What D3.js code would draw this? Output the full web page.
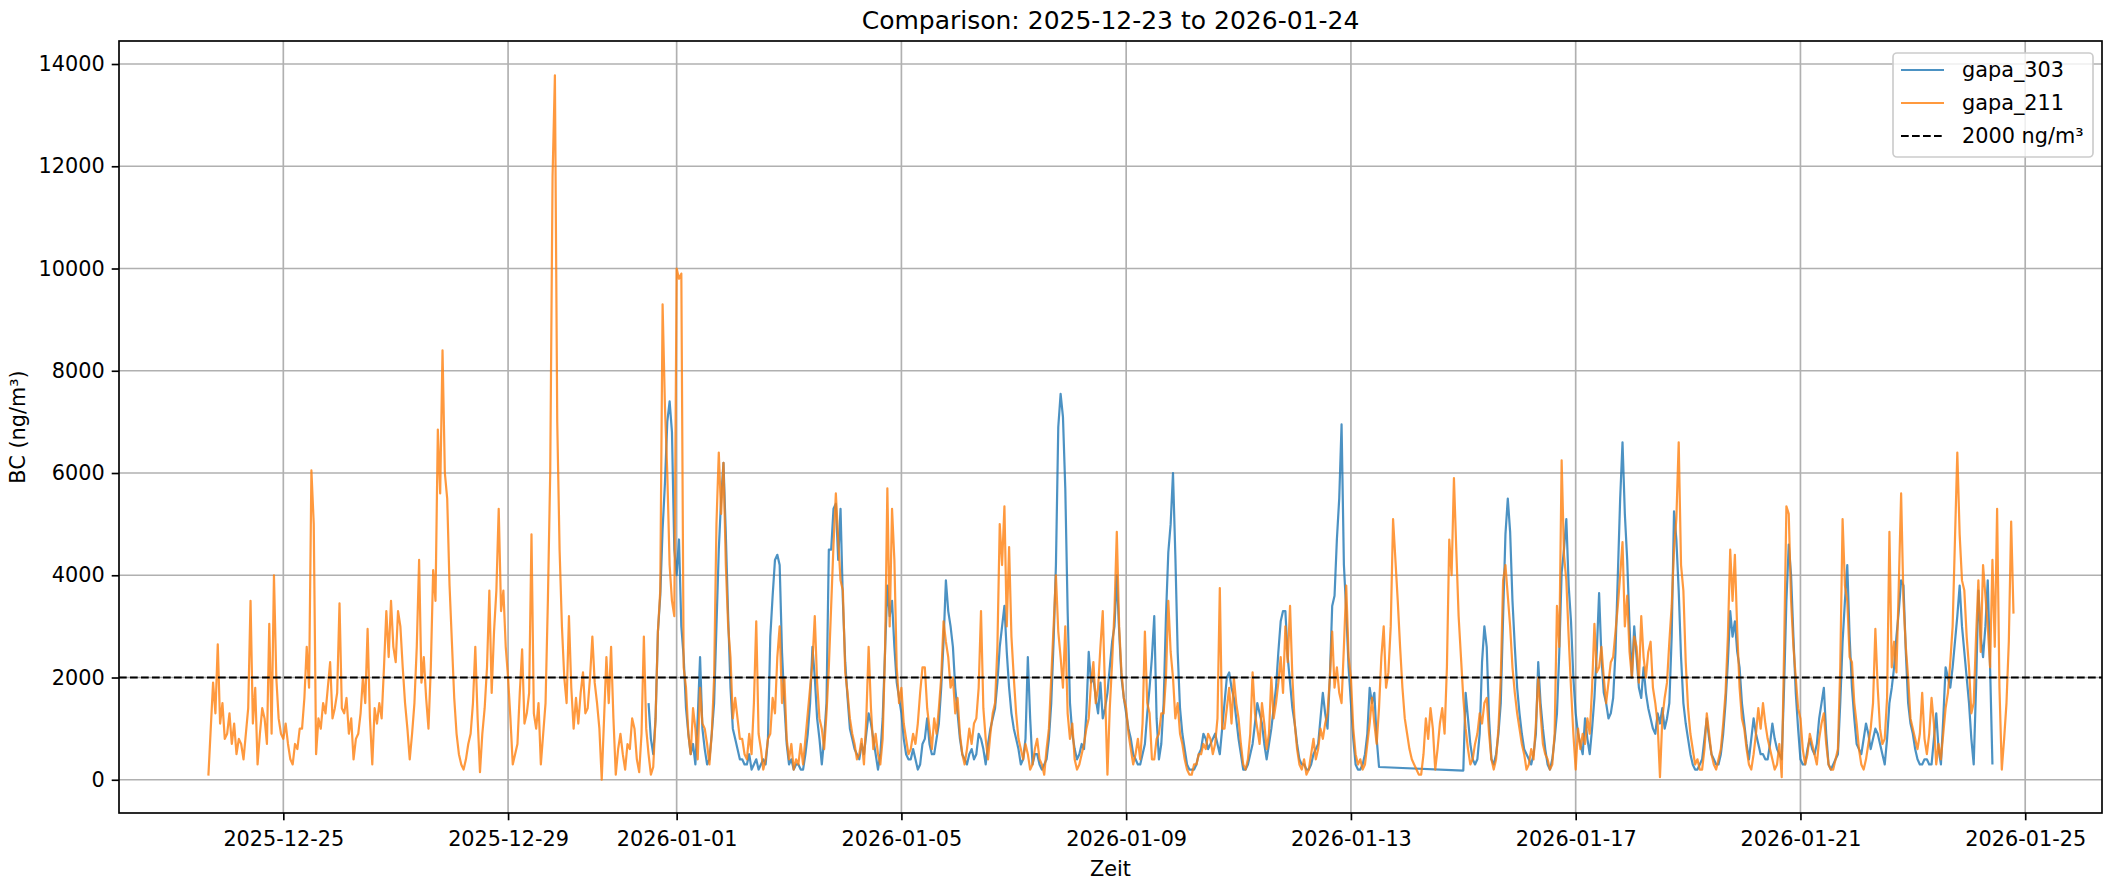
<!DOCTYPE html>
<html>
<head>
<meta charset="utf-8">
<script src="https://cdn.jsdelivr.net/npm/d3@7"></script>
<style>
  body { margin: 0; background: #fff; }
  svg { display: block; font-family: "DejaVu Sans", sans-serif; }
</style>
</head>
<body>
<svg id="chart" width="2103" height="877"></svg>
<script>

// chart values (hourly, one line per day)
var stepHours = 1;
var gapa211Start = "2025-12-23T16:00";
var gapa303Start = "2025-12-31T12:00";

var gapa211 = [
    80, 1000, 1900, 1300, 2650, 1100, 1500, 800,
    900, 1300, 700, 1100, 500, 800, 700, 400, 900, 1400, 3500, 1100, 1800, 300, 900, 1400, 1200, 700, 3050, 900, 4000, 2000, 1200, 900,
    800, 1100, 700, 400, 300, 700, 600, 1000, 1000, 1600, 2600, 1800, 6050, 5000, 500, 1200, 1000, 1500, 1300, 1800, 2300, 1200, 1400, 1700,
    3450, 1400, 1300, 1600, 900, 1200, 400, 800, 900, 1300, 2000, 1500, 2950, 1200, 300, 1400, 1100, 1500, 1200, 2200, 3300, 2400, 3500, 2600,
    2300, 3300, 3000, 2200, 1500, 1000, 400, 900, 1500, 2600, 4300, 1900, 2400, 1600, 1000, 2200, 4100, 3500, 6850, 5600, 8400, 6000, 5500, 3800,
    2700, 1600, 900, 500, 300, 200, 400, 700, 900, 1500, 2600, 1200, 150, 900, 1400, 2200, 3700, 1700, 2900, 3700, 5300, 3300, 3700, 2600,
    2000, 1200, 300, 500, 700, 1700, 2550, 1100, 1300, 1700, 4800, 1300, 1000, 1500, 300, 900, 1500, 3500, 6000, 11800, 13780, 7000, 4500, 3000,
    2000, 1500, 3200, 1800, 1000, 1600, 1100, 1700, 2100, 1300, 1400, 2000, 2800, 1900, 1500, 1000, 0, 1200, 2400, 1500, 2600, 1200, 100, 600,
    900, 500, 200, 700, 600, 1200, 1000, 400, 150, 900, 2800, 1000, 500, 100, 250, 1200, 2900, 3700, 9300, 7300, 6000, 4200, 3500, 3200,
    10000, 9800, 9900, 2200, 1800, 900, 500, 1400, 1000, 400, 1800, 1100, 1000, 700, 300, 900, 2000, 5000, 6400, 5200, 6200, 4200, 3000, 2400,
    1200, 1600, 1200, 800, 800, 500, 400, 900, 500, 1500, 3100, 900, 600, 200, 400, 800, 900, 1600, 1300, 2400, 3000, 1500, 2000, 800,
    400, 700, 200, 400, 300, 700, 300, 800, 1300, 1800, 2300, 3200, 1900, 1200, 1000, 600, 1300, 2200, 3400, 4600, 5600, 4700, 3900, 3700,
    2100, 1700, 1200, 900, 700, 400, 500, 800, 300, 1200, 2600, 1400, 600, 900, 500, 300, 800, 2500, 5700, 3000, 5300, 4300, 2200, 1500,
    1800, 1100, 800, 500, 600, 900, 700, 1100, 1700, 2200, 2200, 1400, 1000, 600, 1200, 900, 1400, 2000, 3100, 2700, 2400, 1800, 2000, 1300,
    1600, 900, 500, 300, 600, 1000, 700, 1100, 1200, 1800, 3300, 1400, 800, 400, 900, 1300, 1500, 2600, 5000, 4200, 5350, 3000, 4550, 2800,
    2000, 1300, 800, 600, 400, 700, 500, 200, 300, 600, 800, 400, 300, 100, 600, 1000, 2000, 3000, 4000, 2900, 2400, 1800, 3000, 1300,
    800, 1100, 400, 200, 300, 500, 700, 1000, 1200, 1900, 2300, 1500, 1800, 2600, 3300, 1700, 100, 1400, 2300, 3300, 4850, 3000, 2100, 1600,
    1400, 900, 600, 300, 500, 800, 400, 1100, 2900, 1500, 1300, 400, 400, 800, 900, 1300, 1300, 2000, 3500, 2500, 2000, 1200, 1500, 900,
    700, 400, 200, 100, 100, 300, 300, 500, 500, 700, 600, 900, 800, 500, 700, 1200, 3750, 1000, 1000, 1400, 1800, 1100, 2000, 1500,
    1200, 700, 300, 200, 400, 900, 2100, 1300, 1000, 700, 1500, 1100, 600, 900, 2000, 1200, 1500, 1900, 2400, 1700, 3000, 2300, 3400, 2000,
    1100, 600, 300, 200, 400, 100, 200, 500, 800, 400, 600, 1000, 800, 1100, 1300, 2000, 2900, 1800, 2200, 1700, 1500, 2600, 3800, 2400,
    2000, 1000, 500, 300, 400, 200, 300, 700, 1100, 1600, 1100, 700, 1400, 2400, 3000, 1800, 2100, 3000, 5100, 4300, 3500, 2600, 1800, 1200,
    900, 600, 400, 300, 200, 100, 100, 500, 1200, 800, 1400, 1000, 200, 600, 1100, 1400, 900, 2200, 4700, 4000, 5900, 4500, 3200, 2400,
    1600, 1000, 600, 300, 400, 700, 900, 1300, 1100, 1500, 1600, 900, 400, 200, 400, 1000, 2000, 3900, 4200, 3600, 3000, 2200, 1700, 1300,
    1000, 700, 500, 200, 300, 600, 400, 1100, 2000, 1300, 700, 500, 400, 200, 300, 900, 3400, 2600, 6250, 4400, 3900, 2800, 1800, 900,
    200, 1000, 600, 900, 700, 1200, 900, 1800, 3050, 2100, 2200, 2600, 2000, 1500, 1900, 2300, 2400, 2900, 3400, 4000, 4650, 3000, 3600, 2500,
    2000, 2800, 2600, 1900, 3200, 2400, 2000, 2500, 2700, 1800, 1500, 1100, 50, 1200, 1600, 1900, 2700, 3400, 4500, 5100, 6600, 4200, 3700, 2300,
    1400, 900, 600, 300, 400, 200, 200, 600, 1300, 900, 500, 300, 200, 400, 600, 1100, 1700, 2800, 4500, 3500, 4400, 2900, 1800, 1200,
    1000, 600, 300, 200, 500, 900, 1400, 1000, 1500, 1100, 800, 600, 400, 200, 300, 700, 50, 2500, 5350, 5200, 3500, 2600, 2000, 1400,
    1200, 600, 300, 500, 900, 700, 500, 300, 800, 1100, 1300, 700, 300, 200, 200, 400, 600, 2200, 5100, 3800, 3500, 2400, 2300, 1500,
    1100, 600, 300, 200, 400, 700, 1000, 1500, 2950, 1800, 1000, 700, 800, 1600, 4850, 2200, 2700, 2100, 3800, 5600, 3500, 2600, 2000, 1200,
    1000, 800, 600, 900, 1700, 800, 500, 900, 1600, 1100, 300, 700, 400, 900, 1400, 1700, 2300, 3000, 4700, 6400, 4800, 3900, 3700, 2800,
    2200, 1300, 1500, 2800, 3900, 2500, 4200, 3600, 3000, 2200, 4300, 2600, 5300, 1800, 200, 800, 1500, 2700, 5050, 3250
];

var gapa303 = [
    1500, 800, 500, 1200, 2900, 3600, 4900, 5800, 7000, 7400, 6800, 4500,
    4000, 4700, 3000, 2400, 1400, 900, 500, 700, 300, 1200, 2400, 1000, 600, 300, 400, 900, 1500, 3000, 4500, 5500, 6200, 4800, 3200, 1800,
    1000, 800, 600, 400, 400, 300, 300, 500, 200, 300, 400, 200, 300, 400, 300, 800, 2800, 3600, 4300, 4400, 4200, 2500, 1500, 700,
    300, 400, 200, 300, 300, 200, 200, 500, 900, 1500, 2600, 2000, 1200, 800, 300, 800, 1500, 4500, 4500, 5300, 5400, 4300, 5300, 3500,
    2300, 1600, 1000, 800, 600, 500, 400, 700, 500, 900, 1300, 1100, 800, 500, 200, 500, 1200, 2500, 3800, 3200, 3500, 2600, 1900, 1600,
    1300, 800, 500, 400, 400, 600, 400, 200, 300, 700, 800, 1200, 700, 500, 500, 800, 1100, 1800, 2700, 3900, 3300, 3000, 2600, 1800,
    1300, 800, 500, 400, 300, 500, 600, 400, 500, 900, 800, 600, 300, 700, 1000, 1200, 1400, 1900, 2600, 3000, 3400, 2500, 1800, 1300,
    1000, 800, 600, 300, 400, 800, 2400, 1200, 300, 500, 500, 300, 200, 300, 400, 800, 1500, 2700, 4200, 6900, 7550, 7100, 5700, 3300,
    1500, 900, 600, 400, 500, 700, 600, 1300, 2500, 1900, 2000, 1600, 1300, 1900, 1200, 1400, 1700, 2200, 2700, 3000, 4000, 2900, 2000, 1600,
    1300, 1000, 800, 500, 400, 300, 300, 500, 700, 1300, 1800, 2400, 3200, 1200, 400, 700, 1500, 3200, 4450, 5000, 6000, 4400, 2500, 1400,
    900, 600, 300, 200, 200, 200, 300, 500, 600, 900, 800, 600, 700, 800, 900, 700, 500, 1000, 1500, 2000, 2100, 1800, 1600, 1200,
    800, 500, 200, 200, 300, 500, 700, 1100, 1500, 1300, 1100, 700, 400, 700, 1000, 1400, 1800, 2500, 3100, 3300, 3300, 2400, 1900, 1400,
    1100, 700, 400, 300, 300, 200, 200, 300, 500, 600, 700, 1200, 1700, 1300, 1000, 2000, 3400, 3600, 4700, 5500, 6950, 4200, 3300, 2200,
    1500, 800, 300, 200, 200, 300, 500, 900, 1800, 1500, 1700, 800, 250, null, null, null, null, null, null, null, null, null, null, null,
    null, null, null, null, null, null, null, null, null, null, null, null, null, null, null, null, null, null, null, null, null, null, null, null,
    180, 1700, 1200, 700, 400, 300, 400, 900, 2300, 3000, 2600, 1200, 400, 300, 500, 900, 1500, 3200, 4800, 5500, 4850, 3500, 2600, 1800,
    1300, 900, 600, 500, 400, 300, 500, 900, 2300, 1500, 1000, 600, 300, 200, 400, 800, 1300, 2500, 4050, 4500, 5100, 3800, 3100, 2000,
    1300, 900, 700, 500, 1200, 800, 500, 1000, 1600, 2500, 3650, 2400, 1700, 1500, 1200, 1300, 1600, 2500, 4000, 5500, 6600, 5200, 4300, 3000,
    2000, 3000, 2400, 1800, 1600, 2200, 1700, 1400, 1200, 1000, 900, 1300, 1100, 1400, 1000, 1200, 1500, 2800, 5250, 4700, 3700, 2400, 1500, 1100,
    800, 500, 300, 200, 200, 300, 400, 800, 1200, 800, 500, 400, 300, 300, 500, 900, 1500, 2300, 3300, 2800, 3100, 2500, 2200, 1500,
    1100, 700, 400, 800, 1200, 900, 700, 500, 500, 400, 400, 700, 1100, 800, 600, 500, 400, 1800, 3500, 4600, 4000, 2800, 1700, 1000,
    400, 300, 300, 600, 800, 600, 500, 700, 1200, 1500, 1800, 900, 300, 200, 300, 400, 500, 1500, 2700, 3500, 4200, 2800, 1800, 1200,
    700, 600, 500, 800, 1100, 900, 600, 800, 1000, 900, 700, 500, 300, 800, 1500, 1800, 2200, 2800, 3300, 3900, 3800, 2500, 1500, 1100,
    900, 600, 400, 300, 300, 400, 400, 300, 300, 800, 1300, 600, 300, 1200, 2200, 2000, 1800, 2200, 2700, 3200, 3800, 3000, 2500, 2000,
    1500, 800, 300, 1800, 3700, 2800, 2400, 3000, 3900, 2200, 300
];

var threshold = 2000;

var xTicks = ["2025-12-25", "2025-12-29", "2026-01-01", "2026-01-05",
              "2026-01-09", "2026-01-13", "2026-01-17", "2026-01-21", "2026-01-25"];
var yTicks = [0, 2000, 4000, 6000, 8000, 10000, 12000, 14000];

var xRange = ["2025-12-22T01:49", "2026-01-26T08:48"];
var yRange = [-650, 14450];

var titleText = "Comparison: 2025-12-23 to 2026-01-24";
var xLabel = "Zeit";
var yLabel = "BC (ng/m\u00b3)";

var series = [
    { name: "gapa_303", values: gapa303, start: gapa303Start, color: "#1f77b4" },
    { name: "gapa_211", values: gapa211, start: gapa211Start, color: "#ff7f0e" }
];

// layout (plot box in page pixels)
var plotLeft = 119, plotRight = 2102, plotTop = 41, plotBottom = 813;
var fontSize = 20.8;

var parseTime = d3.timeParse("%Y-%m-%dT%H:%M");
var parseDay = d3.timeParse("%Y-%m-%d");

function toPoints(s) {
    var t0 = parseTime(s.start);
    var pts = [];
    for (var i = 0; i < s.values.length; i++) {
        if (s.values[i] === null) continue;   // missing data, line just connects
        pts.push({ t: d3.timeHour.offset(t0, i * stepHours), v: s.values[i] });
    }
    return pts;
}

var svg = d3.select("#chart");

var x = d3.scaleTime()
    .domain(xRange.map(parseTime))
    .range([plotLeft, plotRight]);

var y = d3.scaleLinear()
    .domain(yRange)
    .range([plotBottom, plotTop]);

var tickDates = xTicks.map(parseDay);

// grid
var grid = svg.append("g").attr("stroke", "#b0b0b0").attr("stroke-width", 1.67);
grid.selectAll(".vg").data(tickDates).enter().append("line")
    .attr("x1", function(d){ return x(d); })
    .attr("x2", function(d){ return x(d); })
    .attr("y1", plotTop).attr("y2", plotBottom);
grid.selectAll(".hg").data(yTicks).enter().append("line")
    .attr("x1", plotLeft).attr("x2", plotRight)
    .attr("y1", function(d){ return y(d); })
    .attr("y2", function(d){ return y(d); });

// series
var line = d3.line()
    .x(function(d){ return x(d.t); })
    .y(function(d){ return y(d.v); });

svg.append("defs").append("clipPath").attr("id", "plotclip")
    .append("rect").attr("x", plotLeft).attr("y", plotTop)
    .attr("width", plotRight - plotLeft).attr("height", plotBottom - plotTop);

var plot = svg.append("g").attr("clip-path", "url(#plotclip)");

series.forEach(function(s) {
    plot.append("path")
        .datum(toPoints(s))
        .attr("fill", "none")
        .attr("stroke", s.color)
        .attr("stroke-opacity", 0.8)
        .attr("stroke-width", 2.2)
        .attr("stroke-linejoin", "round")
        .attr("d", line);
});

// 2000 ng/m3 line
plot.append("line")
    .attr("x1", plotLeft).attr("x2", plotRight)
    .attr("y1", y(threshold)).attr("y2", y(threshold))
    .attr("stroke", "#000")
    .attr("stroke-width", 2.08)
    .attr("stroke-dasharray", "7.7,3.3");

// axes
var xAxis = d3.axisBottom(x)
    .tickValues(tickDates)
    .tickFormat(d3.timeFormat("%Y-%m-%d"))
    .tickSize(7.3)
    .tickPadding(11);

var yAxis = d3.axisLeft(y)
    .tickValues(yTicks)
    .tickFormat(d3.format("d"))
    .tickSize(7.3)
    .tickPadding(7);

var gx = svg.append("g").attr("transform", "translate(0," + plotBottom + ")").call(xAxis);
var gy = svg.append("g").attr("transform", "translate(" + plotLeft + ",0)").call(yAxis);

[gx, gy].forEach(function(g) {
    g.select(".domain").remove();
    g.selectAll(".tick line").attr("stroke", "#000").attr("stroke-width", 1.67);
    g.selectAll(".tick text")
        .attr("fill", "#000")
        .style("font-family", "DejaVu Sans")
        .style("font-size", fontSize + "px");
});

// spines
svg.append("rect")
    .attr("x", plotLeft).attr("y", plotTop)
    .attr("width", plotRight - plotLeft).attr("height", plotBottom - plotTop)
    .attr("fill", "none")
    .attr("stroke", "#000")
    .attr("stroke-width", 1.67);

// labels
svg.append("text")
    .attr("x", (plotLeft + plotRight) / 2).attr("y", 28.5)
    .attr("text-anchor", "middle")
    .style("font-size", "25px")
    .text(titleText);

svg.append("text")
    .attr("x", (plotLeft + plotRight) / 2).attr("y", 876)
    .attr("text-anchor", "middle")
    .style("font-size", fontSize + "px")
    .text(xLabel);

svg.append("text")
    .attr("transform", "translate(25," + ((plotTop + plotBottom) / 2) + ") rotate(-90)")
    .attr("text-anchor", "middle")
    .style("font-size", fontSize + "px")
    .text(yLabel);

// legend
var legendItems = [
    { label: "gapa_303", color: "#1f77b4", dash: null, opacity: 0.8 },
    { label: "gapa_211", color: "#ff7f0e", dash: null, opacity: 0.8 },
    { label: "2000 ng/m\u00b3", color: "#000", dash: "7.7,3.3", opacity: 1 }
];

var legend = svg.append("g");
legend.append("rect")
    .attr("x", 1893).attr("y", 53)
    .attr("width", 200).attr("height", 104)
    .attr("rx", 4)
    .attr("fill", "#fff").attr("fill-opacity", 0.8)
    .attr("stroke", "#cccccc").attr("stroke-width", 1.67);

var rowsL = legend.selectAll(".item").data(legendItems).enter().append("g")
    .attr("transform", function(d, i){ return "translate(0," + (70 + i * 33) + ")"; });

rowsL.append("line")
    .attr("x1", 1901).attr("x2", 1944)
    .attr("stroke", function(d){ return d.color; })
    .attr("stroke-opacity", function(d){ return d.opacity; })
    .attr("stroke-width", 2.08)
    .attr("stroke-dasharray", function(d){ return d.dash; });

rowsL.append("text")
    .attr("x", 1962)
    .attr("dy", "0.35em")
    .style("font-size", fontSize + "px")
    .text(function(d){ return d.label; });

</script>
</body>
</html>
